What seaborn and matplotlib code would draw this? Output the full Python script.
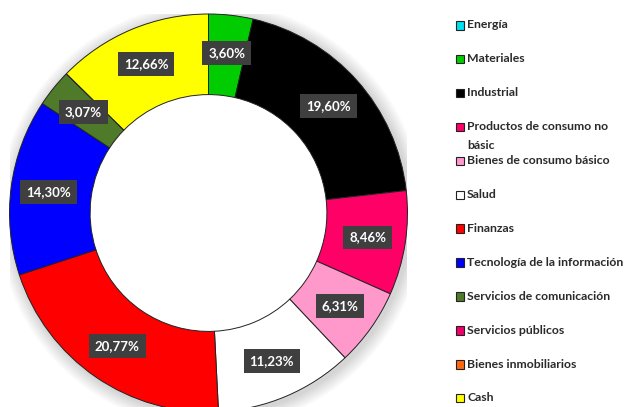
import matplotlib
matplotlib.use("Agg")
import matplotlib.pyplot as plt
import seaborn as sns
from matplotlib.patches import Rectangle, Wedge

sns.set_theme(style="white")
plt.rcParams['font.family'] = ['Lato', 'DejaVu Sans']

categories = ["Energía", "Materiales", "Industrial", "Productos de consumo no\nbásic",
              "Bienes de consumo básico", "Salud", "Finanzas", "Tecnología de la información",
              "Servicios de comunicación", "Servicios públicos", "Bienes inmobiliarios", "Cash"]
values = [0.0, 3.60, 19.60, 8.46, 6.31, 11.23, 20.77, 14.30, 3.07, 0.0, 0.0, 12.66]
colors = ["#00E0F0", "#00CC00", "#000000", "#FF0066", "#FF99CC", "#FFFFFF",
          "#FF0000", "#0000FF", "#4E7A2A", "#F0006A", "#FF6A10", "#FFFF00"]

W, H = 624, 407
fig = plt.figure(figsize=(W / 100, H / 100), dpi=100)
fig.patch.set_facecolor("white")

cx, cy, R = 208.5, 213, 199
ax = fig.add_axes([(cx - R) / W, (H - cy - R) / H, 2 * R / W, 2 * R / H])

def fmt(p):
    return "" if p < 0.01 else f"{p:.2f}%".replace(".", ",")

wedges, texts, autotexts = ax.pie(
    values, colors=colors, startangle=90, counterclock=False, radius=1.0,
    wedgeprops=dict(width=0.405, edgecolor="#222222", linewidth=0.7),
    autopct=fmt, pctdistance=0.81,
    textprops=dict(color="white", fontsize=9.5, fontweight="bold"))
for t in autotexts:
    t.set_bbox(dict(boxstyle="square,pad=0.45", facecolor="#3F3F3F", edgecolor="none"))
    t.set_zorder(5)

# soft outer shadow
for i in range(7):
    ax.add_patch(Wedge((0.012, -0.012), 1.0 + 0.01 * (i + 1), 0, 360,
                       width=0.01 * (i + 1) + 0.05, color="black",
                       alpha=0.022, lw=0, zorder=0))

ax.set_xlim(-1, 1)
ax.set_ylim(-1, 1)
ax.set_aspect("equal")
ax.axis("off")

# legend (manual, right side)
x_sq, x_txt = 456, 467
for i, (lab, col) in enumerate(zip(categories, colors)):
    y = 25 + i * 33.9
    fig.patches.append(Rectangle((x_sq / W, 1 - (y + 4.5) / H), 8.5 / W, 8.5 / H,
                                 transform=fig.transFigure, facecolor=col,
                                 edgecolor="#222222", linewidth=0.8))
    lines = lab.split("\n")
    for j, ln in enumerate(lines):
        fig.text(x_txt / W, 1 - (y + j * 19) / H, ln, fontsize=8.8, fontweight="bold",
                 color="#2A2A2A", va="center", ha="left")

fig.savefig("out.png", dpi=100)
